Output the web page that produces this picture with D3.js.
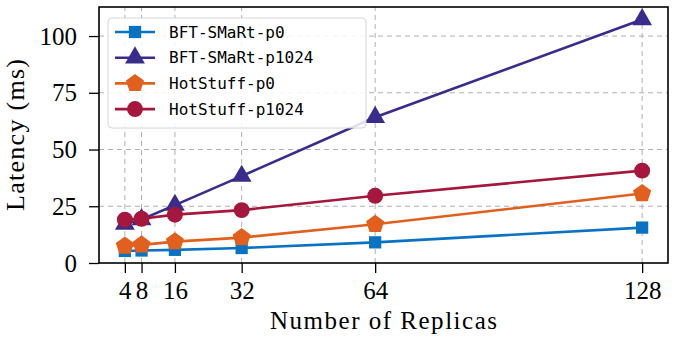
<!DOCTYPE html>
<html>
<head>
<meta charset="utf-8">
<script src="https://cdn.jsdelivr.net/npm/d3@7"></script>
<style>
  body { margin: 0; background: #fff; }
  svg text { fill: #000; }
</style>
</head>
<body>
<div id="chart"></div>
<script>
const replicas = [4, 8, 16, 32, 64, 128]
const seriesNames = ['BFT-SMaRt-p0', 'BFT-SMaRt-p1024', 'HotStuff-p0', 'HotStuff-p1024']
const bftP0 = [5.3, 5.5, 5.8, 6.6, 9.1, 15.6]
const bftP1024 = [17.2, 19.2, 25.5, 38.3, 64.2, 107.3]
const hotP0 = [7.5, 8.0, 9.4, 11.2, 17.1, 30.6]
const hotP1024 = [19.1, 19.5, 21.3, 23.3, 29.6, 40.7]
const yTicks = [0, 25, 50, 75, 100]
const colors = ['#0a72c2', '#3a2c8c', '#e2601e', '#a5173c']
const symbols = [d3.symbolSquare, d3.symbolTriangle, 'pentagon', d3.symbolCircle]

var width = 677, height = 343
var margin = {left: 99, right: 9, top: 7, bottom: 80}
var serif = 'Liberation Serif, serif'

const svg = d3.select('#chart').append('svg')
    .attr('width', width)
    .attr('height', height)

const x = d3.scaleLinear()
    .domain([4 - 6.2, 128 + 6.2])
    .range([margin.left, width - margin.right])

const y = d3.scaleLinear()
    .domain([0, 112.8])
    .range([height - margin.bottom, margin.top])

// grid
svg.append('g').selectAll('line')
    .data(replicas)
    .enter().append('line')
    .attr('x1', d => x(d)).attr('x2', d => x(d))
    .attr('y1', y(0)).attr('y2', y(112.8))
    .attr('stroke', '#b0b0b0').attr('stroke-width', 1)
    .attr('stroke-dasharray', '5,4')
svg.append('g').selectAll('line')
    .data(yTicks.slice(1))
    .enter().append('line')
    .attr('x1', x.range()[0]).attr('x2', x.range()[1])
    .attr('y1', d => y(d)).attr('y2', d => y(d))
    .attr('stroke', '#b0b0b0').attr('stroke-width', 1)
    .attr('stroke-dasharray', '5,4')

const xAxis = d3.axisBottom(x).tickValues(replicas).tickSize(10)
const yAxis = d3.axisLeft(y).tickValues(yTicks).tickSize(10).tickPadding(12)

const gx = svg.append('g')
    .attr('transform', 'translate(0,' + (height - margin.bottom) + ')')
    .call(xAxis)
gx.select('.domain').remove()
gx.selectAll('text')
    .attr('font-family', serif).attr('font-size', 25)
    .attr('y', 36).attr('dy', 0)
gx.selectAll('line').attr('stroke-width', 1.3)

const gy = svg.append('g')
    .attr('transform', 'translate(' + margin.left + ',0)')
    .call(yAxis)
gy.select('.domain').remove()
gy.selectAll('text').attr('font-family', serif).attr('font-size', 25)
gy.selectAll('line').attr('stroke-width', 1.3)

function pentagon(r) {
    var pts = []
    for (var k = 0; k < 5; k++) {
        var a = -Math.PI / 2 + k * 2 * Math.PI / 5
        pts.push([r * Math.cos(a), r * Math.sin(a)])
    }
    return 'M' + pts.map(p => p.join(',')).join('L') + 'Z'
}

function markerPath(i) {
    if (symbols[i] === 'pentagon') return pentagon(9.5)
    var sizes = [150, 170, 0, 200]
    return d3.symbol().type(symbols[i]).size(sizes[i])()
}

const allSeries = [bftP0, bftP1024, hotP0, hotP1024]
const line = d3.line().x((d, i) => x(replicas[i])).y(d => y(d))

allSeries.forEach(function (vals, s) {
    svg.append('path')
        .datum(vals)
        .attr('d', line)
        .attr('fill', 'none')
        .attr('stroke', colors[s])
        .attr('stroke-width', 2.6)
    svg.append('g').selectAll('path')
        .data(vals)
        .enter().append('path')
        .attr('d', markerPath(s))
        .attr('transform', (d, i) => 'translate(' + x(replicas[i]) + ',' + y(d) + ')')
        .attr('fill', colors[s])
})

// frame
svg.append('rect')
    .attr('x', x.range()[0]).attr('y', y.range()[1])
    .attr('width', x.range()[1] - x.range()[0])
    .attr('height', y.range()[0] - y.range()[1])
    .attr('fill', 'none').attr('stroke', '#000').attr('stroke-width', 1.6)

// legend
const legend = svg.append('g').attr('transform', 'translate(108,18)')
legend.append('rect')
    .attr('width', 258).attr('height', 110)
    .attr('rx', 4)
    .attr('fill', 'rgba(255,255,255,0.85)')
    .attr('stroke', '#d6d6d6')
seriesNames.forEach(function (name, s) {
    var ly = 14 + s * 25.7
    legend.append('line')
        .attr('x1', 7).attr('x2', 47)
        .attr('y1', ly).attr('y2', ly)
        .attr('stroke', colors[s]).attr('stroke-width', 2.6)
    legend.append('path')
        .attr('d', markerPath(s))
        .attr('transform', 'translate(27,' + ly + ')')
        .attr('fill', colors[s])
    legend.append('text')
        .attr('x', 61).attr('y', ly)
        .attr('dy', '0.35em')
        .attr('font-family', 'DejaVu Sans Mono, monospace')
        .attr('font-size', 16)
        .text(name)
})

svg.append('text')
    .attr('x', (x.range()[0] + x.range()[1]) / 2)
    .attr('y', 329)
    .attr('text-anchor', 'middle')
    .attr('font-family', serif)
    .attr('font-size', 25)
    .attr('textLength', 227)
    .text('Number of Replicas')

svg.append('text')
    .attr('transform', 'translate(24,' + ((y.range()[0] + y.range()[1]) / 2) + ') rotate(-90)')
    .attr('text-anchor', 'middle')
    .attr('font-family', serif)
    .attr('font-size', 26)
    .attr('textLength', 152)
    .text('Latency (ms)')
</script>
</body>
</html>
